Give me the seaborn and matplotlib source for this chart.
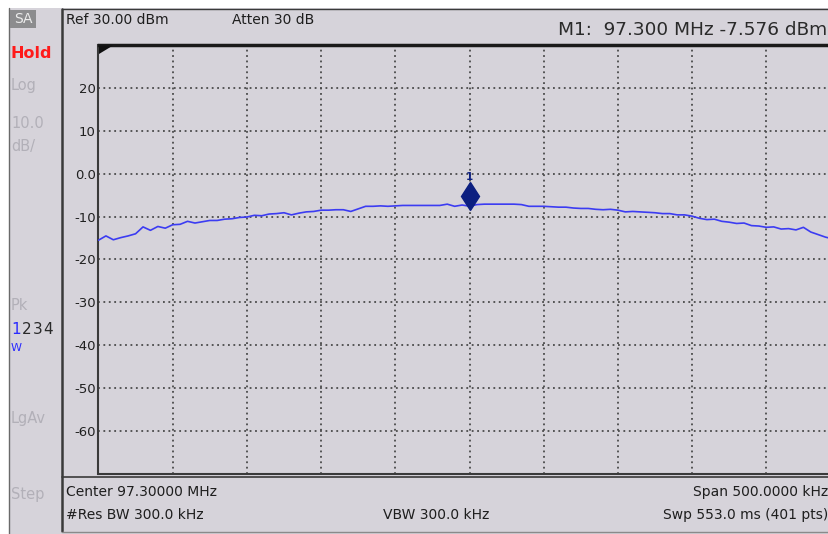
import numpy as np
import pandas as pd
import matplotlib
matplotlib.use("Agg")
import matplotlib.pyplot as plt
import matplotlib.transforms as mtransforms
from matplotlib.patches import Rectangle, Polygon
from matplotlib.lines import Line2D
import seaborn as sns

# ---------------- data ----------------
center_mhz = 97.300
span_mhz = 0.500
trace_dbm = [
    -15.5, -14.5, -15.4, -14.9, -14.5, -14.0, -12.4, -13.2, -12.3, -12.7,
    -11.9, -11.8, -11.1, -11.5, -11.2, -10.9, -10.9, -10.6, -10.5, -10.2,
    -10.1, -9.7, -9.8, -9.4, -9.3, -9.1, -9.6, -9.2, -8.9, -8.8,
    -8.5, -8.5, -8.4, -8.4, -8.8, -8.2, -7.6, -7.6, -7.5, -7.6,
    -7.5, -7.4, -7.4, -7.4, -7.4, -7.4, -7.4, -7.1, -7.6, -7.3,
    -7.576, -7.2, -7.1, -7.1, -7.1, -7.1, -7.1, -7.2, -7.6, -7.6,
    -7.6, -7.7, -7.8, -7.8, -8.0, -8.1, -8.1, -8.3, -8.4, -8.3,
    -8.5, -8.9, -8.8, -8.9, -9.0, -9.1, -9.3, -9.3, -9.6, -9.6,
    -9.9, -10.4, -10.7, -10.6, -11.1, -11.3, -11.6, -11.5, -12.1, -12.2,
    -12.5, -12.4, -12.9, -12.8, -13.1, -12.5, -13.6, -14.2, -14.8, -15.2,
    -15.5,
]
marker_freq_mhz = 97.300
marker_dbm = -7.576
ref_level = 30.0
bottom_level = -70.0
y_ticks = [20, 10, 0, -10, -20, -30, -40, -50, -60]
y_tick_labels = ["20", "10", "0.0", "-10", "-20", "-30", "-40", "-50", "-60"]
x_grid_mhz = [97.10, 97.15, 97.20, 97.25, 97.30, 97.35, 97.40, 97.45, 97.50]

n_pts = len(trace_dbm)
f_start = center_mhz - span_mhz / 2
f_stop = center_mhz + span_mhz / 2
freqs = np.linspace(f_start, f_stop, n_pts)
df = pd.DataFrame({"freq": freqs, "dbm": trace_dbm})

# ---------------- style ----------------
sns.set_style("white")
plt.rcParams["font.family"] = ["DejaVu Sans"]

BG = "#d6d3da"
DARK = "#3a3a3a"
GRID = "#4a4a4a"
LIGHT_TXT = "#b2b0b8"
TRACE = "#3c3cf2"
NAVY = "#0c1f80"
BLUE = "#2a2aff"
RED = "#ff1a1a"

W, H = 829, 534


def fx(x):
    return x / W


def fy(y):
    return 1 - y / H


fig = plt.figure(figsize=(8.29, 5.34), dpi=100)
fig.patch.set_facecolor("white")

# gray instrument background
fig.add_artist(Rectangle((fx(9), fy(534)), fx(840) - fx(9), fy(8) - fy(534),
                         transform=fig.transFigure, facecolor=BG,
                         edgecolor="none", zorder=0))


def hline(x0, x1, y, color=DARK, lw=1.0, z=1):
    fig.add_artist(Line2D([fx(x0), fx(x1)], [fy(y), fy(y)],
                          transform=fig.transFigure, color=color, lw=lw, zorder=z))


def vline(x, y0, y1, color=DARK, lw=1.0, z=1):
    fig.add_artist(Line2D([fx(x), fx(x)], [fy(y0), fy(y1)],
                          transform=fig.transFigure, color=color, lw=lw, zorder=z))


# frame lines
vline(9.5, 8, 534, color="#6a6a6a", lw=1.0)
vline(62, 9, 531, color=DARK, lw=1.8)
hline(62, 840, 9, color=DARK, lw=1.0)
hline(62, 840, 476.5, color=DARK, lw=1.2)
hline(62, 840, 531.5, color="#8a8a8a", lw=1.0)

# ---------------- plot area ----------------
ax = fig.add_axes([fx(98.5), fy(474), fx(840.5) - fx(98.5), fy(45) - fy(474)])
ax.set_facecolor(BG)

sns.lineplot(data=df, x="freq", y="dbm", ax=ax, color=TRACE, lw=1.2,
             legend=False, zorder=3)

ax.set_xlim(f_start, f_stop)
ax.set_ylim(bottom_level, ref_level)
ax.set_xticks(x_grid_mhz)
ax.set_xticklabels([])
ax.set_yticks(y_ticks)
ax.set_yticklabels(y_tick_labels)
ax.set_xlabel("")
ax.set_ylabel("")
ax.grid(True, color=GRID, linestyle=(0, (1, 2)), linewidth=1.3, zorder=1)
ax.tick_params(axis="both", length=0, pad=2, labelsize=9.5, labelcolor="#202020")

ax.spines["right"].set_visible(False)
ax.spines["left"].set_color(DARK)
ax.spines["left"].set_linewidth(1.5)
ax.spines["bottom"].set_color(DARK)
ax.spines["bottom"].set_linewidth(1.5)
ax.spines["top"].set_color("#1a1a1a")
ax.spines["top"].set_linewidth(2.5)

# marker 1 diamond above the trace point
mk_trans = mtransforms.offset_copy(ax.transData, fig=fig, x=0, y=10, units="dots")
ax.plot([marker_freq_mhz], [marker_dbm], marker="d", markersize=14.5,
        color=NAVY, transform=mk_trans, clip_on=False, zorder=5)
lbl_trans = mtransforms.offset_copy(ax.transData, fig=fig, x=0, y=29, units="dots")
ax.text(marker_freq_mhz, marker_dbm, "1", transform=lbl_trans, ha="center",
        va="center", fontsize=7.5, fontweight="bold", color=NAVY, zorder=5)

# corner wedges
fig.add_artist(Polygon([(fx(99), fy(45.5)), (fx(113), fy(45.5)), (fx(99), fy(54))],
                       closed=True, transform=fig.transFigure,
                       facecolor="#111111", edgecolor="none", zorder=4))
fig.add_artist(Polygon([(fx(840), fy(45.5)), (fx(826), fy(45.5)), (fx(840), fy(54))],
                       closed=True, transform=fig.transFigure,
                       facecolor="#111111", edgecolor="none", zorder=4))

# ---------------- header texts ----------------
TXT = "#1e1e1e"
fig.text(fx(66), fy(20), "Ref 30.00 dBm", ha="left", va="center", fontsize=10, color=TXT)
fig.text(fx(232), fy(20), "Atten 30 dB", ha="left", va="center", fontsize=10, color=TXT)
fig.text(fx(827), fy(30), "M1:  97.300 MHz -7.576 dBm", ha="right", va="center",
         fontsize=13.3, color="#2a2a2a")

# ---------------- footer texts ----------------
fig.text(fx(66), fy(492), "Center 97.30000 MHz", ha="left", va="center", fontsize=10, color=TXT)
fig.text(fx(66), fy(515), "#Res BW 300.0 kHz", ha="left", va="center", fontsize=10, color=TXT)
fig.text(fx(436), fy(515), "VBW 300.0 kHz", ha="center", va="center", fontsize=10, color=TXT)
fig.text(fx(828), fy(492), "Span 500.0000 kHz", ha="right", va="center", fontsize=10, color=TXT)
fig.text(fx(828), fy(515), "Swp 553.0 ms (401 pts)", ha="right", va="center", fontsize=10, color=TXT)

# ---------------- left soft-key panel ----------------
fig.add_artist(Rectangle((fx(10), fy(28)), fx(36) - fx(10), fy(10) - fy(28),
                         transform=fig.transFigure, facecolor="#8c8c8e",
                         edgecolor="none", zorder=2))
fig.text(fx(23), fy(19), "SA", ha="center", va="center", fontsize=10, color="#ececec", zorder=3)
fig.text(fx(11), fy(53), "Hold", ha="left", va="center", fontsize=11.5,
         fontweight="bold", color=RED)
fig.text(fx(11), fy(85), "Log", ha="left", va="center", fontsize=10.5, color=LIGHT_TXT)
fig.text(fx(11), fy(124), "10.0", ha="left", va="center", fontsize=10.5, color=LIGHT_TXT)
fig.text(fx(11), fy(146), "dB/", ha="left", va="center", fontsize=10.5, color=LIGHT_TXT)
fig.text(fx(11), fy(306), "Pk", ha="left", va="center", fontsize=10.5, color=LIGHT_TXT)
for i, (ch, col) in enumerate(zip("1234", [BLUE, "#2a2a2a", "#2a2a2a", "#2a2a2a"])):
    fig.text(fx(11 + 10.7 * i), fy(330), ch, ha="left", va="center", fontsize=11, color=col)
fig.text(fx(11), fy(348), "W", ha="left", va="center", fontsize=8, color=BLUE)
fig.text(fx(11), fy(418), "LgAv", ha="left", va="center", fontsize=10.5, color=LIGHT_TXT)
fig.text(fx(11), fy(494), "Step", ha="left", va="center", fontsize=10.5, color=LIGHT_TXT)

fig.savefig("out.png", dpi=100, facecolor=fig.get_facecolor())
